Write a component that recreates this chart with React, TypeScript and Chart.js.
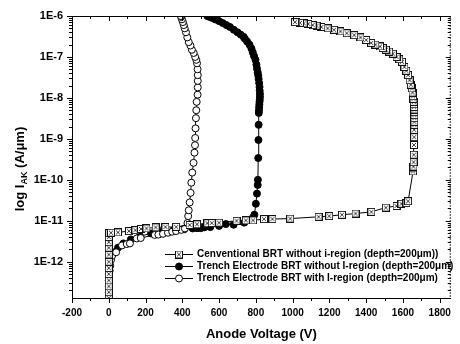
import React, { useEffect, useRef } from "react";
import { Chart, registerables } from "chart.js";

Chart.register(...registerables);

// ---------- data ----------
const seriesLabels = [
  "Cenventional BRT without i-region (depth=200μm))",
  "Trench Electrode BRT without I-region (depth=200μm)",
  "Trench Electrode BRT with I-region (depth=200μm)",
];

const xTickValues = [-200, 0, 200, 400, 600, 800, 1000, 1200, 1400, 1600, 1800];
const yTickValues = [1e-12, 1e-11, 1e-10, 1e-9, 1e-8, 1e-7, 1e-6];

// Conventional BRT (crossed squares)
const convV = [
  0, 0, 0, 0, 0, 0, 0, 0, 0, 0, 0, 2,
  12, 50, 110, 145, 175, 205, 255, 308, 366, 440, 480, 536, 560, 600, 695, 745, 785, 844, 890, 987,
  1141, 1199, 1268, 1342, 1428, 1507, 1565, 1592, 1619, 1628,
  1655, 1656, 1657, 1658, 1659, 1660, 1661, 1661, 1662, 1662, 1662, 1662, 1662, 1662, 1661, 1660,
  1659, 1657, 1655, 1652, 1648, 1643, 1636, 1628, 1618, 1608, 1595, 1580, 1565, 1545, 1525, 1507,
  1490, 1475, 1450, 1427, 1400, 1369, 1335, 1294, 1260, 1225, 1190, 1156, 1130, 1109, 1085, 1060,
  1040, 1020, 1013,
];
const convI = [
  1.3e-13, 1.8e-13, 2.5e-13, 3.5e-13, 5e-13, 7e-13, 1e-12, 1.5e-12, 2.2e-12, 3e-12, 4e-12, 5e-12,
  5.1e-12, 5.2e-12, 5.6e-12, 5.9e-12, 6.3e-12, 6.5e-12, 6.9e-12, 7e-12, 7.1e-12, 7.9e-12, 8.2e-12, 8.7e-12, 8.8e-12, 9e-12, 1e-11, 1.02e-11, 1.02e-11, 1.1e-11, 1.1e-11, 1.13e-11,
  1.25e-11, 1.3e-11, 1.4e-11, 1.5e-11, 1.65e-11, 2.1e-11, 2.3e-11, 2.6e-11, 2.7e-11, 3e-11,
  1.6e-10, 1.9e-10, 2.1e-10, 2.7e-10, 4.1e-10, 7.1e-10, 1.1e-9, 1.66e-9, 2.2e-9, 2.6e-9, 3.2e-9, 3.8e-9, 4.5e-9, 5.2e-9, 6e-9, 7e-9,
  8e-9, 9.5e-9, 1.1e-8, 1.35e-8, 1.7e-8, 2.1e-8, 2.7e-8, 3.6e-8, 4.6e-8, 5.7e-8, 7.6e-8, 8.8e-8, 1e-7, 1.2e-7, 1.35e-7, 1.5e-7,
  1.65e-7, 1.8e-7, 2e-7, 2.2e-7, 2.6e-7, 3e-7, 3.4e-7, 3.8e-7, 4.2e-7, 4.6e-7, 5e-7, 5.4e-7, 5.8e-7, 6e-7, 6.4e-7, 6.6e-7,
  6.8e-7, 7e-7, 7.1e-7,
];

// Trench Electrode BRT without I-region (filled circles)
const trenchV = [
  0, 0, 0, 0, 0, 2, 5, 10, 18, 30, 50, 80, 120, 170, 230, 290, 350, 410, 456, 480, 500, 520, 552, 600,
  637, 679, 737, 775, 785, 792, 800, 806, 810, 811, 813, 814, 815, 816, 817, 818, 819, 820, 821, 822,
  822, 821, 820, 818, 815, 813, 810, 806, 803, 798, 790, 783, 776, 765, 752, 740, 733, 718, 700, 680,
  659, 640, 620, 600, 580, 560, 545, 536,
];
const trenchI = [
  1.3e-13, 1.8e-13, 2.5e-13, 3.5e-13, 5e-13, 7e-13, 1e-12, 1.3e-12, 1.5e-12, 1.7e-12, 2.2e-12, 2.8e-12, 3.5e-12, 4.2e-12, 4.9e-12, 5.4e-12, 5.8e-12, 6.2e-12, 6.5e-12, 6.6e-12, 6.6e-12, 6.9e-12, 7e-12, 7.5e-12,
  8.3e-12, 8e-12, 9e-12, 1.05e-11, 1.2e-11, 1.4e-11, 2.6e-11, 4.6e-11, 7.5e-11, 1e-10, 3.4e-10, 9.4e-10, 2.2e-9, 4.3e-9, 5e-9, 6e-9, 7e-9, 8e-9, 9e-9, 1.05e-8,
  1.25e-8, 1.5e-8, 1.85e-8, 2.3e-8, 2.9e-8, 3.5e-8, 4.2e-8, 5.2e-8, 6.5e-8, 8.5e-8, 1.05e-7, 1.3e-7, 1.6e-7, 2e-7, 2.4e-7, 2.8e-7, 3.1e-7, 3.5e-7, 4e-7, 4.6e-7,
  5.4e-7, 6e-7, 6.7e-7, 7.5e-7, 8.2e-7, 9e-7, 9.6e-7, 1e-6,
];

// Trench Electrode BRT with I-region (open circles)
const iregionV = [
  2, 5, 8, 12, 18, 40, 72, 98, 115, 152, 174, 250, 270, 295, 322, 345, 366, 395, 414, 428,
  432, 435, 440, 445, 449, 454, 461, 466, 469, 470, 472, 474, 476, 478, 483, 484, 484, 484, 483, 480,
  476, 470, 462, 452, 444, 435, 427, 420, 413, 408, 403, 398, 394, 392,
];
const iregionI = [
  4e-13, 6e-13, 8e-13, 1.1e-12, 1.4e-12, 1.7e-12, 2.5e-12, 2.7e-12, 2.8e-12, 3.7e-12, 3.8e-12, 4.5e-12, 4.6e-12, 4.8e-12, 5.1e-12, 5.4e-12, 5.6e-12, 6e-12, 6.5e-12, 8.8e-12,
  1.3e-11, 1.8e-11, 2.8e-11, 4.8e-11, 8.5e-11, 1.5e-10, 2.6e-10, 4.6e-10, 7e-10, 1.05e-9, 1.8e-9, 3.2e-9, 5e-9, 8e-9, 1.2e-8, 1.8e-8, 2.6e-8, 3.6e-8, 5e-8, 7e-8,
  8.5e-8, 1e-7, 1.25e-7, 1.5e-7, 1.9e-7, 2.3e-7, 3e-7, 4e-7, 5e-7, 6e-7, 7.1e-7, 8.3e-7, 9.5e-7, 1e-6,
];

const FONT = "'Liberation Sans', Arial, Helvetica, sans-serif";

function toPoints(xs: number[], ys: number[]) {
  return xs.map((x, i) => ({ x, y: ys[i] }));
}

function makeCrossBox(): HTMLCanvasElement {
  const c = document.createElement("canvas");
  c.width = 8;
  c.height = 8;
  const g = c.getContext("2d")!;
  g.fillStyle = "#fff";
  g.fillRect(0, 0, 8, 8);
  g.strokeStyle = "#111";
  g.lineWidth = 1;
  g.strokeRect(0.5, 0.5, 7, 7);
  g.strokeStyle = "#444";
  g.beginPath();
  g.moveTo(2, 2);
  g.lineTo(6, 6);
  g.moveTo(6, 2);
  g.lineTo(2, 6);
  g.stroke();
  return c;
}

const decorPlugin = {
  id: "decor",
  afterDraw(chart: any) {
    const ctx: CanvasRenderingContext2D = chart.ctx;
    const { left, right, top, bottom } = chart.chartArea;
    const xs = chart.scales.x;
    const ys = chart.scales.y;
    ctx.save();
    ctx.strokeStyle = "#000";
    ctx.lineWidth = 1;
    // frame top + right
    ctx.beginPath();
    ctx.moveTo(left, top + 0.5);
    ctx.lineTo(right, top + 0.5);
    ctx.stroke();
    ctx.save();
    ctx.strokeStyle = "#333";
    ctx.setLineDash([2, 1]);
    ctx.beginPath();
    ctx.moveTo(right - 0.5, top);
    ctx.lineTo(right - 0.5, bottom);
    ctx.stroke();
    ctx.restore();

    const line = (x1: number, y1: number, x2: number, y2: number) => {
      ctx.beginPath();
      ctx.moveTo(x1, y1);
      ctx.lineTo(x2, y2);
      ctx.stroke();
    };
    // x ticks
    for (let v = -200; v <= 1850; v += 100) {
      const major = v % 200 === 0;
      const px = Math.round(xs.getPixelForValue(v)) + 0.5;
      if (px < left - 1 || px > right) continue;
      const len = major ? 5 : 3;
      line(px, bottom, px, bottom + len);
      line(px, top, px, top + len);
    }
    // y ticks
    for (let e = -13; e <= -6; e++) {
      for (let m = 1; m <= 9; m++) {
        const val = m * Math.pow(10, e);
        if (val < ys.min * 0.999 || val > ys.max * 1.001) continue;
        const py = Math.round(ys.getPixelForValue(val)) + 0.5;
        const len = m === 1 ? 5 : 3;
        line(left - len, py, left, py);
        line(right - len, py, right, py);
      }
    }

    // y axis title with subscript
    ctx.fillStyle = "#000";
    ctx.translate(20, 169);
    ctx.rotate(-Math.PI / 2);
    const f1 = `bold 13px ${FONT}`;
    const f2 = `bold 9px ${FONT}`;
    const p1 = "log I";
    const p2 = "AK";
    const p3 = " (A/μm)";
    ctx.font = f1;
    const w1 = ctx.measureText(p1).width;
    const w3 = ctx.measureText(p3).width;
    ctx.font = f2;
    const w2 = ctx.measureText(p2).width;
    let x0 = -(w1 + w2 + w3) / 2;
    ctx.textBaseline = "middle";
    ctx.textAlign = "left";
    ctx.font = f1;
    ctx.fillText(p1, x0, 0);
    x0 += w1;
    ctx.font = f2;
    ctx.fillText(p2, x0, 5);
    x0 += w2;
    ctx.font = f1;
    ctx.fillText(p3, x0, 0);
    ctx.restore();

    // legend
    ctx.save();
    const rows = [254, 266, 278];
    chart.data.datasets.forEach((ds: any, i: number) => {
      const y = rows[i] + 0.5;
      ctx.strokeStyle = "#000";
      ctx.lineWidth = 1;
      line(165, y, 193, y);
      const mx = 179;
      if (ds.pointStyle && typeof ds.pointStyle !== "string") {
        const img = ds.pointStyle as HTMLCanvasElement;
        ctx.drawImage(img, mx - img.width / 2, rows[i] + 0.5 - img.height / 2);
      } else {
        ctx.beginPath();
        ctx.arc(mx, y, ds.pointRadius, 0, Math.PI * 2);
        ctx.fillStyle = ds.pointBackgroundColor;
        ctx.fill();
        ctx.stroke();
      }
      ctx.fillStyle = "#000";
      ctx.font = `bold 10px ${FONT}`;
      ctx.textBaseline = "middle";
      ctx.textAlign = "left";
      ctx.fillText(seriesLabels[i], 197, y);
    });
    ctx.restore();
  },
};

export default function App() {
  const ref = useRef<HTMLCanvasElement | null>(null);
  useEffect(() => {
    document.body.style.margin = "0";
    const canvas = ref.current!;
    const crossBox = makeCrossBox();
    const chart = new Chart(canvas, {
      type: "line",
      data: {
        datasets: [
          {
            label: seriesLabels[0],
            data: toPoints(convV, convI),
            borderColor: "#000",
            borderWidth: 1,
            pointStyle: crossBox as any,
            pointRadius: 4,
            tension: 0,
            order: 0,
          },
          {
            label: seriesLabels[1],
            data: toPoints(trenchV, trenchI),
            borderColor: "#000",
            borderWidth: 1,
            pointStyle: "circle",
            pointRadius: 3.5,
            pointBackgroundColor: "#000",
            pointBorderColor: "#000",
            pointBorderWidth: 1,
            tension: 0,
            order: 2,
          },
          {
            label: seriesLabels[2],
            data: toPoints(iregionV, iregionI),
            borderColor: "#000",
            borderWidth: 1,
            pointStyle: "circle",
            pointRadius: 3.5,
            pointBackgroundColor: "#fff",
            pointBorderColor: "#000",
            pointBorderWidth: 1,
            tension: 0,
            order: 1,
          },
        ],
      } as any,
      options: {
        animation: false,
        responsive: false,
        maintainAspectRatio: false,
        layout: { padding: { top: 16, right: 2, left: 0, bottom: 0 } },
        plugins: { legend: { display: false }, tooltip: { enabled: false } },
        scales: {
          x: {
            type: "linear",
            min: -200,
            max: 1860,
            grid: { display: false, drawTicks: false },
            border: { display: true, color: "#000", width: 1 },
            afterBuildTicks: (s: any) => {
              s.ticks = xTickValues.map((v) => ({ value: v }));
            },
            afterFit: (s: any) => {
              s.height = 46;
            },
            ticks: {
              color: "#000",
              font: { family: FONT, size: 10, weight: "bold" },
              padding: 9,
              maxRotation: 0,
              autoSkip: false,
              callback: (v: any) => String(v),
            },
            title: {
              display: true,
              text: "Anode Voltage (V)",
              color: "#000",
              font: { family: FONT, size: 13, weight: "bold" },
              padding: { top: 0, bottom: 2 },
            },
          },
          y: {
            type: "logarithmic",
            min: 1.3e-13,
            max: 1e-6,
            grid: { display: false, drawTicks: false },
            border: { display: true, color: "#000", width: 1 },
            afterBuildTicks: (s: any) => {
              s.ticks = yTickValues.map((v) => ({ value: v }));
            },
            afterFit: (s: any) => {
              s.width = 72;
            },
            ticks: {
              color: "#000",
              font: { family: FONT, size: 11, weight: "bold" },
              padding: 9,
              autoSkip: false,
              callback: (v: any) => "1E" + Math.round(Math.log10(Number(v))),
            },
          },
        },
      } as any,
      plugins: [decorPlugin],
    });
    return () => chart.destroy();
  }, []);
  return (
    <div style={{ position: "absolute", left: 0, top: 0, width: 460, height: 344, background: "#fff" }}>
      <canvas ref={ref} width={460} height={344} style={{ display: "block" }} />
    </div>
  );
}
